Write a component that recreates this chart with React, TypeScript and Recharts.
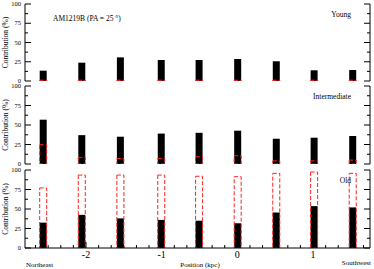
import { BarChart, Bar, XAxis, YAxis } from 'recharts';

// bar positions along the slit (kpc)
const positions = [-2.56, -2.05, -1.54, -1.0, -0.5, 0.01, 0.52, 1.02, 1.53];

// contributions (%) - black bars = flux fraction, red dashed = mass fraction
const youngFlux = [13.4, 23.8, 30.7, 27.3, 27.3, 28.6, 25.6, 13.9, 14.3];
const youngMass = [1, 1, 1, 1, 1, 1, 1, 1, 1];
const interFlux = [56.8, 37, 35, 39, 40, 42.7, 32.4, 33.7, 35.9];
const interMass = [24.7, 8.5, 7, 7, 9.4, 10.6, 4, 4, 5];
const oldFlux = [32.5, 42.5, 38, 36, 35, 31.7, 45.5, 53.7, 52];
const oldMass = [77, 93.5, 93.5, 93.5, 92, 91.4, 95.7, 97.4, 95.7];

const xMajor = [-2, -1, 0, 1];
const xTickLabels = ['-2', '-1', '0', '1'];
const xTicks = [
  -2.667, -2.5, -2.333, -2.167, -2, -1.833, -1.667, -1.5, -1.333, -1.167,
  -1, -0.833, -0.667, -0.5, -0.333, -0.167, 0, 0.167, 0.333, 0.5, 0.667,
  0.833, 1, 1.167, 1.333, 1.5, 1.667,
];
const yMajor = [0, 25, 50, 75, 100];
const yTickLabels = ['0', '25', '50', '75', '100'];
const yTicks = [0, 12.5, 25, 37.5, 50, 62.5, 75, 87.5, 100];

const FONT = '"Liberation Serif", "DejaVu Serif", serif';
const W = 374;
const BAR_W = 7;

const isMajorX = (v: number) => xMajor.some((m) => Math.abs(m - v) < 1e-6);
const isMajorY = (v: number) => yMajor.includes(v);

const makeRows = (flux: number[], mass: number[]) =>
  positions.map((p, i) => ({ pos: p, flux: flux[i], mass: mass[i] }));

function BottomTick(props: any) {
  const { x, y, payload, showLabel } = props;
  const major = isMajorX(payload.value);
  const idx = xMajor.findIndex((m) => Math.abs(m - payload.value) < 1e-6);
  return (
    <g>
      <line x1={x} x2={x} y1={y} y2={y - (major ? 6 : 3)} stroke="#000" />
      {showLabel && major && (
        <text x={x} y={y + 10} textAnchor="middle" fontSize={10} fontFamily={FONT} fill="#000">
          {xTickLabels[idx]}
        </text>
      )}
    </g>
  );
}

function TopTick(props: any) {
  const { x, y, payload } = props;
  const major = isMajorX(payload.value);
  return <line x1={x} x2={x} y1={y} y2={y + (major ? 6 : 3)} stroke="#000" />;
}

function LeftTick(props: any) {
  const { x, y, payload } = props;
  const major = isMajorY(payload.value);
  const idx = yMajor.indexOf(payload.value);
  return (
    <g>
      <line x1={x} x2={x + (major ? 6 : 3)} y1={y} y2={y} stroke="#000" />
      {major && (
        <text x={x - 4} y={y + 2.2} textAnchor="end" fontSize={6.5} fontFamily={FONT} fill="#000">
          {yTickLabels[idx]}
        </text>
      )}
    </g>
  );
}

function RightTick(props: any) {
  const { x, y, payload } = props;
  const major = isMajorY(payload.value);
  return <line x1={x} x2={x - (major ? 6 : 3)} y1={y} y2={y} stroke="#000" />;
}

function Panel(props: {
  top: number;
  height: number;
  marginTop: number;
  marginBottom: number;
  bottomAxisHeight: number;
  flux: number[];
  mass: number[];
  showXLabels?: boolean;
}) {
  const { top, height, marginTop, marginBottom, bottomAxisHeight, flux, mass, showXLabels } = props;
  return (
    <div style={{ position: 'absolute', left: 0, top }}>
      <BarChart
        width={W}
        height={height}
        data={makeRows(flux, mass)}
        margin={{ top: marginTop, right: 0, bottom: marginBottom, left: 0 }}
        barGap={-BAR_W}
        barSize={BAR_W}
      >
        <XAxis
          dataKey="pos"
          type="number"
          domain={[-2.806, 1.753]}
          allowDataOverflow
          ticks={xTicks}
          interval={0}
          height={bottomAxisHeight}
          tickSize={0}
          tickMargin={0}
          tickLine={false}
          axisLine={{ stroke: '#000' }}
          tick={<BottomTick showLabel={showXLabels} />}
        />
        <XAxis
          xAxisId="top"
          dataKey="pos"
          type="number"
          orientation="top"
          domain={[-2.806, 1.753]}
          allowDataOverflow
          ticks={xTicks}
          interval={0}
          height={0}
          tickSize={0}
          tickMargin={0}
          tickLine={false}
          axisLine={{ stroke: '#000' }}
          tick={<TopTick />}
        />
        <YAxis
          type="number"
          domain={[0, 100]}
          allowDataOverflow
          ticks={yTicks}
          interval={0}
          width={25}
          tickSize={0}
          tickMargin={0}
          tickLine={false}
          axisLine={{ stroke: '#000' }}
          tick={<LeftTick />}
        />
        <YAxis
          yAxisId="right"
          orientation="right"
          type="number"
          domain={[0, 100]}
          allowDataOverflow
          ticks={yTicks}
          interval={0}
          width={4}
          tickSize={0}
          tickMargin={0}
          tickLine={false}
          axisLine={{ stroke: '#000' }}
          tick={<RightTick />}
        />
        <Bar dataKey="flux" fill="#000" isAnimationActive={false} />
        <Bar
          dataKey="mass"
          fill="none"
          stroke="#ff2020"
          strokeWidth={1}
          strokeDasharray="4 2"
          isAnimationActive={false}
        />
      </BarChart>
    </div>
  );
}

export default function App() {
  const titleCenters = [42.5, 125, 209];
  return (
    <div
      style={{
        position: 'absolute',
        left: 0,
        top: 0,
        width: W,
        height: 269,
        background: '#fff',
        overflow: 'hidden',
      }}
    >
      <Panel top={0} height={84} marginTop={4} marginBottom={3} bottomAxisHeight={0} flux={youngFlux} mass={youngMass} />
      <Panel top={82} height={85} marginTop={4} marginBottom={3} bottomAxisHeight={0} flux={interFlux} mass={interMass} />
      <Panel
        top={166}
        height={103}
        marginTop={4}
        marginBottom={0}
        bottomAxisHeight={21}
        flux={oldFlux}
        mass={oldMass}
        showXLabels
      />
      <svg
        width={W}
        height={269}
        style={{ position: 'absolute', left: 0, top: 0, pointerEvents: 'none' }}
        fontFamily={FONT}
      >
        {titleCenters.map((cy) => (
          <text
            key={cy}
            x={0}
            y={0}
            transform={`translate(8, ${cy}) rotate(-90)`}
            textAnchor="middle"
            fontSize={7.5}
            fill="#000"
          >
            Contribution (%)
          </text>
        ))}
        <text x={53} y={20.5} fontSize={7.5} fill="#000">
          AM1219B  (PA = 25 °)
        </text>
        <text x={351} y={16.5} textAnchor="end" fontSize={7.5} fill="#000">
          Young
        </text>
        <text x={351} y={99} textAnchor="end" fontSize={7.5} fill="#000">
          Intermediate
        </text>
        <text x={351} y={182.5} textAnchor="end" fontSize={7.5} fill="#000">
          Old
        </text>
        <text x={26} y={267} fontSize={7} fill="#000">
          Northeast
        </text>
        <text x={200} y={267} textAnchor="middle" fontSize={7} fill="#000">
          Position (kpc)
        </text>
        <text x={371} y={265} textAnchor="end" fontSize={7} fill="#000">
          Southwest
        </text>
      </svg>
    </div>
  );
}
